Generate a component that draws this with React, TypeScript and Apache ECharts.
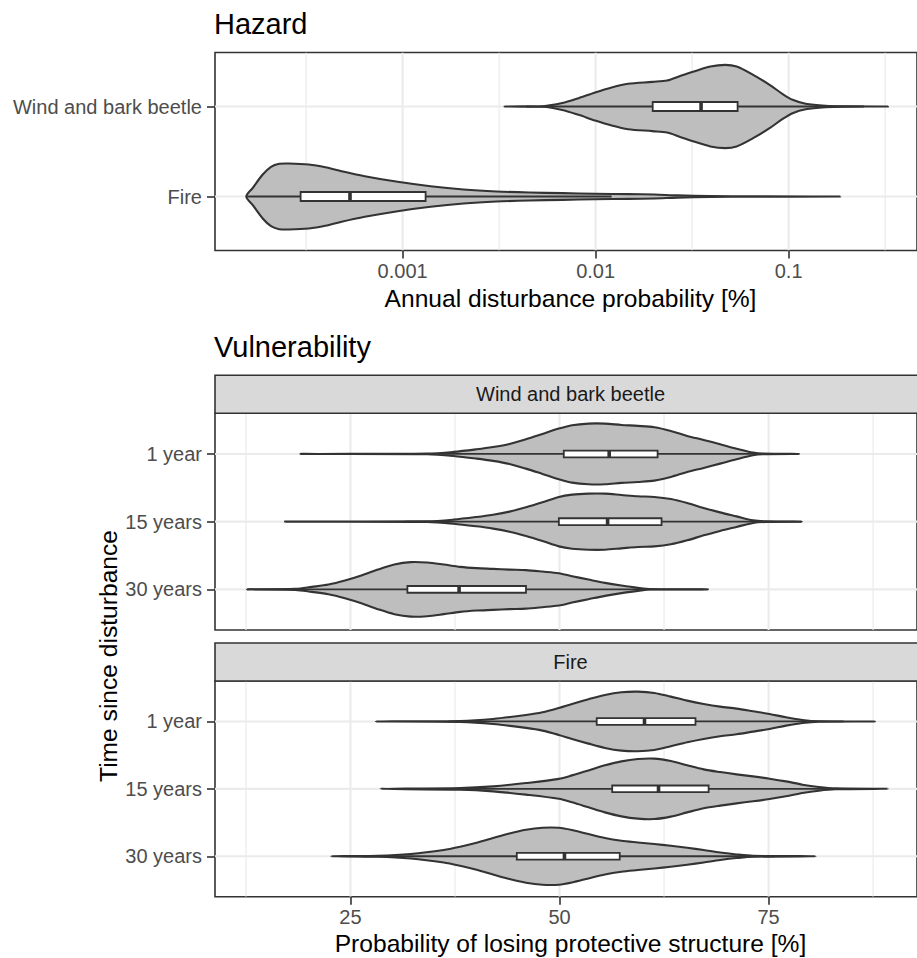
import React, { useEffect, useRef } from 'react';
import * as echarts from 'echarts';

const FONT = '"Liberation Sans", Arial, Helvetica, sans-serif';

// ---------- Hazard (annual disturbance probability, log scale) ----------
const hazardCategories = ['Wind and bark beetle', 'Fire']; // top to bottom
const hazardTickValues = [0.001, 0.01, 0.1];
const hazardTickLabels = ['0.001', '0.01', '0.1'];
const hazardMinorBreaks = [0.00031623, 0.0031623, 0.031623, 0.31623];

// violin outline: [probability, half width in category units]
const hazardWindProfile = [
  [0.003376, 0], [0.005307, 0.003], [0.006716, 0.038], [0.008166, 0.093], [0.00994, 0.156],
  [0.012104, 0.211], [0.014719, 0.252], [0.019685, 0.274], [0.023485, 0.289], [0.0276, 0.341],
  [0.032287, 0.389], [0.039301, 0.444], [0.046891, 0.463], [0.053752, 0.444], [0.065449, 0.352],
  [0.079672, 0.241], [0.09318, 0.138], [0.10483, 0.074], [0.12259, 0.03], [0.15513, 0.008],
  [0.19572, 0.002], [0.32743, 0],
];
const hazardFireProfile = [
  [0.00015495, 0], [0.00016749, 0.097], [0.00018847, 0.244], [0.00020806, 0.33], [0.00022944, 0.363],
  [0.00025807, 0.367], [0.00032668, 0.356], [0.00039765, 0.326], [0.0004834, 0.281], [0.00063694, 0.226],
  [0.00094275, 0.163], [0.0013956, 0.114], [0.0020682, 0.078], [0.0030609, 0.056], [0.0045322, 0.044],
  [0.006716, 0.037], [0.00994, 0.03], [0.014719, 0.026], [0.020153, 0.022], [0.026424, 0.013],
  [0.039301, 0.006], [0.065449, 0.002], [0.18515, 0],
];
// [lower whisker, q1, median, q3, upper whisker]
const hazardWindBox = [0.0043652, 0.019757, 0.035179, 0.0544, 0.24547];
const hazardFireBox = [0.00015495, 0.0002962, 0.00053383, 0.0013157, 0.012106];

// ---------- Vulnerability (probability of losing protective structure) ----------
const timeCategories = ['1 year', '15 years', '30 years']; // top to bottom
const facetNames = ['Wind and bark beetle', 'Fire'];
const vulnTickValues = [25, 50, 75];
const vulnMinorBreaks = [12.5, 37.5, 62.5, 87.5];

const windProfile1 = [
  [19.02, 0], [34.18, 0.004], [37.33, 0.03], [40.08, 0.069], [42.05, 0.103], [44.01, 0.148],
  [45.99, 0.217], [47.96, 0.295], [49.92, 0.374], [51.5, 0.424], [53.46, 0.448], [55.43, 0.448],
  [57.4, 0.428], [59.36, 0.414], [61.34, 0.394], [63.31, 0.34], [65.27, 0.266], [67.24, 0.207],
  [69.21, 0.143], [71.17, 0.078], [73.14, 0.019], [74.32, 0.004], [78.66, 0],
];
const windProfile15 = [
  [17.17, 0], [34.18, 0.004], [37.33, 0.03], [40.08, 0.069], [42.05, 0.103], [44.01, 0.148],
  [45.99, 0.211], [47.96, 0.285], [49.92, 0.365], [51.5, 0.399], [53.46, 0.414], [55.43, 0.414],
  [57.4, 0.394], [59.36, 0.374], [61.34, 0.365], [63.31, 0.335], [65.27, 0.276], [67.24, 0.202],
  [69.21, 0.137], [71.17, 0.078], [73.14, 0.019], [74.72, 0.004], [78.97, 0],
];
const windProfile30 = [
  [12.6, 0], [18.43, 0.007], [20.39, 0.037], [22.37, 0.071], [24.34, 0.13], [26.3, 0.204],
  [28.27, 0.292], [30.24, 0.366], [32.2, 0.402], [34.18, 0.396], [36.15, 0.366], [38.11, 0.332],
  [40.08, 0.313], [42.05, 0.303], [44.01, 0.292], [45.99, 0.284], [47.96, 0.263], [49.92, 0.239],
  [51.5, 0.195], [53.46, 0.145], [55.43, 0.096], [57.4, 0.056], [59.36, 0.022], [60.95, 0.003],
  [67.75, 0],
];
const fireProfile1 = [
  [28.0, 0], [38.11, 0.007], [42.05, 0.037], [45.99, 0.096], [47.96, 0.136], [49.92, 0.2],
  [51.5, 0.26], [53.46, 0.329], [55.43, 0.393], [57.4, 0.433], [59.36, 0.442], [61.34, 0.423],
  [63.31, 0.368], [65.27, 0.309], [67.24, 0.26], [69.21, 0.22], [71.17, 0.19], [73.14, 0.151],
  [75.12, 0.111], [77.08, 0.062], [79.05, 0.022], [81.02, 0.003], [87.71, 0],
];
const fireProfile15 = [
  [28.59, 0], [38.11, 0.012], [42.05, 0.037], [45.99, 0.086], [49.92, 0.148], [51.5, 0.2],
  [53.46, 0.274], [55.43, 0.349], [57.4, 0.408], [59.36, 0.442], [61.34, 0.448], [63.31, 0.412],
  [65.27, 0.349], [67.24, 0.289], [69.21, 0.249], [71.17, 0.215], [73.14, 0.185], [75.12, 0.151],
  [77.08, 0.111], [79.05, 0.062], [81.02, 0.027], [82.98, 0.007], [89.29, 0],
];
const fireProfile30 = [
  [22.69, 0], [28.27, 0.007], [32.2, 0.033], [36.15, 0.092], [38.11, 0.141], [40.08, 0.2],
  [42.05, 0.27], [44.01, 0.338], [45.99, 0.393], [47.96, 0.423], [49.92, 0.423], [51.5, 0.389],
  [53.46, 0.329], [55.43, 0.27], [57.4, 0.23], [59.36, 0.205], [61.34, 0.181], [63.31, 0.156],
  [65.27, 0.126], [67.24, 0.092], [69.21, 0.056], [71.17, 0.027], [73.14, 0.007], [80.62, 0],
];
// [lower whisker, q1, median, q3, upper whisker]
const windBoxes = [
  [33.7, 50.51, 55.94, 61.73, 78.5],
  [31.5, 49.92, 55.75, 62.2, 78.97],
  [12.6, 31.81, 37.99, 45.99, 67.2],
];
const fireBoxes = [
  [36.7, 54.45, 60.16, 66.26, 83.97],
  [39.0, 56.3, 61.84, 67.83, 85.1],
  [26.4, 44.89, 50.59, 57.2, 75.7],
];

// ---------- layout ----------
const PANEL_LEFT = 215;
const PANEL_WIDTH = 711;
const HAZ = { top: 52.5, height: 198 };
const WIND = { top: 413.3, height: 216.7 };
const FIRE = { top: 681, height: 215.7 };
const STRIP_H = 38;

const INK = '#333333';
const GRIDC = '#EBEBEB';
const TICK_FS = 20;
const AXIS_FS = 24.6;
const TITLE_FS = 29;

type Violin = { pos: number; profile: number[][]; box: number[] };

const log10 = (v: number) => Math.log10(v);
const ident = (v: number) => v;

function violinSeries(gi: number, violins: Violin[], tx: (v: number) => number) {
  return {
    type: 'custom',
    xAxisIndex: gi,
    yAxisIndex: gi,
    z: 5,
    silent: true,
    clip: false,
    data: violins.map((v) => [tx(v.box[2]), v.pos]),
    encode: { x: 0, y: 1 },
    renderItem: (params: any, api: any) => {
      const v = violins[params.dataIndex];
      const up = v.profile.map(([x, h]) => api.coord([tx(x), v.pos + h]));
      const lo = v.profile
        .slice(1, -1)
        .reverse()
        .map(([x, h]) => api.coord([tx(x), v.pos - h]));
      const [wl, q1, med, q3, wh] = v.box.map(tx);
      const pL = api.coord([wl, v.pos]);
      const pQ1 = api.coord([q1, v.pos]);
      const pQ3 = api.coord([q3, v.pos]);
      const pH = api.coord([wh, v.pos]);
      const pM = api.coord([med, v.pos]);
      const top = api.coord([q1, v.pos + 0.05])[1];
      const bot = api.coord([q1, v.pos - 0.05])[1];
      const ls = { stroke: INK, lineWidth: 1.8 };
      return {
        type: 'group',
        children: [
          {
            type: 'polygon',
            shape: { points: up.concat(lo), smooth: 0.3 },
            style: { fill: '#BEBEBE', stroke: INK, lineWidth: 2.1, lineJoin: 'round' },
          },
          { type: 'line', shape: { x1: pL[0], y1: pL[1], x2: pQ1[0], y2: pQ1[1] }, style: ls },
          { type: 'line', shape: { x1: pQ3[0], y1: pQ3[1], x2: pH[0], y2: pH[1] }, style: ls },
          {
            type: 'rect',
            shape: { x: pQ1[0], y: top, width: pQ3[0] - pQ1[0], height: bot - top },
            style: { fill: '#FFFFFF', stroke: INK, lineWidth: 1.8 },
          },
          { type: 'line', shape: { x1: pM[0], y1: top, x2: pM[0], y2: bot }, style: { stroke: INK, lineWidth: 3.6 } },
        ],
      };
    },
  };
}

function gridLineSeries(gi: number, vMajor: number[], vMinor: number[], hMajor: number[], xMid: number, yMid: number) {
  const lines = [
    ...vMinor.map((v) => ({ d: 'v', v, w: 1.2 })),
    ...vMajor.map((v) => ({ d: 'v', v, w: 2.1 })),
    ...hMajor.map((v) => ({ d: 'h', v, w: 2.1 })),
  ];
  return {
    type: 'custom',
    xAxisIndex: gi,
    yAxisIndex: gi,
    z: 1,
    silent: true,
    clip: true,
    data: lines.map((l) => (l.d === 'v' ? [l.v, yMid] : [xMid, l.v])),
    encode: { x: 0, y: 1 },
    renderItem: (params: any, api: any) => {
      const l = lines[params.dataIndex];
      const cs = params.coordSys;
      const style = { stroke: GRIDC, lineWidth: l.w };
      if (l.d === 'v') {
        const x = api.coord([l.v, yMid])[0];
        return { type: 'line', shape: { x1: x, y1: cs.y, x2: x, y2: cs.y + cs.height }, style };
      }
      const y = api.coord([xMid, l.v])[1];
      return { type: 'line', shape: { x1: cs.x, y1: y, x2: cs.x + cs.width, y2: y }, style };
    },
  };
}

function catAxis(gi: number, cats: string[], showLabels = true) {
  const n = cats.length;
  const vals = cats.map((_, i) => n - i);
  return {
    type: 'value',
    gridIndex: gi,
    min: 0.4,
    max: n + 0.6,
    axisLine: { show: false },
    splitLine: { show: false },
    axisTick: { show: true, customValues: vals, length: 8, lineStyle: { color: INK, width: 1.6 } },
    axisLabel: {
      show: showLabels,
      customValues: vals,
      formatter: (v: number) => cats[n - Math.round(v)] ?? '',
      color: '#4D4D4D',
      fontSize: TICK_FS,
      fontFamily: FONT,
      margin: 13,
    },
  };
}

function textEl(text: string, x: number, y: number, size: number, color: string, align: string, rotation = 0) {
  return {
    type: 'text',
    x,
    y,
    rotation,
    z: 20,
    silent: true,
    style: {
      text,
      fill: color,
      fontSize: size,
      fontFamily: FONT,
      align,
      textAlign: align,
      verticalAlign: 'middle',
      textVerticalAlign: 'middle',
    },
  };
}

export default function App() {
  const ref = useRef<HTMLDivElement>(null);
  useEffect(() => {
    if (!ref.current) return;
    const chart = echarts.init(ref.current, undefined, { renderer: 'svg' });

    const hazMajor = hazardTickValues.map(log10);
    const hazMinor = hazardMinorBreaks.map(log10);
    const hazViolins: Violin[] = [
      { pos: 2, profile: hazardWindProfile, box: hazardWindBox },
      { pos: 1, profile: hazardFireProfile, box: hazardFireBox },
    ];
    const windProfiles = [windProfile1, windProfile15, windProfile30];
    const fireProfiles = [fireProfile1, fireProfile15, fireProfile30];
    const nT = timeCategories.length;
    const windViolins: Violin[] = timeCategories.map((_, i) => ({ pos: nT - i, profile: windProfiles[i], box: windBoxes[i] }));
    const fireViolins: Violin[] = timeCategories.map((_, i) => ({ pos: nT - i, profile: fireProfiles[i], box: fireBoxes[i] }));
    const catPos2 = hazardCategories.map((_, i) => hazardCategories.length - i);
    const catPos3 = timeCategories.map((_, i) => nT - i);

    const hazMin = -3.972;
    const hazMax = -0.335;
    const vMin = 8.8;
    const vMax = 92.75;

    const xLabelBase = { color: '#4D4D4D', fontSize: TICK_FS, fontFamily: FONT, margin: 10.5 };
    const tickStyle = { color: INK, width: 1.6 };

    const stripTop1 = WIND.top - STRIP_H;
    const stripTop2 = FIRE.top - STRIP_H;
    const centerX = PANEL_LEFT + PANEL_WIDTH / 2;

    chart.setOption({
      animation: false,
      backgroundColor: '#FFFFFF',
      grid: [
        { left: PANEL_LEFT, width: PANEL_WIDTH, top: HAZ.top, height: HAZ.height, show: true, borderColor: INK, borderWidth: 1.6, backgroundColor: 'transparent' },
        { left: PANEL_LEFT, width: PANEL_WIDTH, top: WIND.top, height: WIND.height, show: true, borderColor: INK, borderWidth: 1.6, backgroundColor: 'transparent' },
        { left: PANEL_LEFT, width: PANEL_WIDTH, top: FIRE.top, height: FIRE.height, show: true, borderColor: INK, borderWidth: 1.6, backgroundColor: 'transparent' },
      ],
      xAxis: [
        {
          type: 'value',
          gridIndex: 0,
          min: hazMin,
          max: hazMax,
          axisLine: { show: false },
          splitLine: { show: false },
          axisTick: { show: true, customValues: hazMajor, length: 8, lineStyle: tickStyle },
          axisLabel: {
            ...xLabelBase,
            customValues: hazMajor,
            formatter: (v: number) => {
              const i = hazMajor.findIndex((m) => Math.abs(m - v) < 1e-6);
              return i >= 0 ? hazardTickLabels[i] : '';
            },
          },
        },
        {
          type: 'value',
          gridIndex: 1,
          min: vMin,
          max: vMax,
          axisLine: { show: false },
          splitLine: { show: false },
          axisTick: { show: false },
          axisLabel: { show: false },
        },
        {
          type: 'value',
          gridIndex: 2,
          min: vMin,
          max: vMax,
          axisLine: { show: false },
          splitLine: { show: false },
          axisTick: { show: true, customValues: vulnTickValues, length: 8, lineStyle: tickStyle },
          axisLabel: { ...xLabelBase, customValues: vulnTickValues, formatter: (v: number) => String(Math.round(v)) },
        },
      ],
      yAxis: [catAxis(0, hazardCategories), catAxis(1, timeCategories), catAxis(2, timeCategories)],
      series: [
        gridLineSeries(0, hazMajor, hazMinor, catPos2, -2, 1.5),
        gridLineSeries(1, vulnTickValues, vulnMinorBreaks, catPos3, 50, 2),
        gridLineSeries(2, vulnTickValues, vulnMinorBreaks, catPos3, 50, 2),
        violinSeries(0, hazViolins, log10),
        violinSeries(1, windViolins, ident),
        violinSeries(2, fireViolins, ident),
      ],
      graphic: [
        textEl('Hazard', 214, 24, TITLE_FS, '#000000', 'left'),
        textEl('Annual disturbance probability [%]', centerX, 298, AXIS_FS, '#000000', 'center'),
        textEl('Vulnerability', 214, 347, TITLE_FS, '#000000', 'left'),
        {
          type: 'rect',
          z: 15,
          silent: true,
          shape: { x: PANEL_LEFT, y: stripTop1, width: PANEL_WIDTH, height: STRIP_H },
          style: { fill: '#D9D9D9', stroke: INK, lineWidth: 1.6 },
        },
        textEl(facetNames[0], centerX, stripTop1 + STRIP_H / 2, TICK_FS, '#1A1A1A', 'center'),
        {
          type: 'rect',
          z: 15,
          silent: true,
          shape: { x: PANEL_LEFT, y: stripTop2, width: PANEL_WIDTH, height: STRIP_H },
          style: { fill: '#D9D9D9', stroke: INK, lineWidth: 1.6 },
        },
        textEl(facetNames[1], centerX, stripTop2 + STRIP_H / 2, TICK_FS, '#1A1A1A', 'center'),
        textEl('Time since disturbance', 108, 656, AXIS_FS, '#000000', 'center', Math.PI / 2),
        textEl('Probability of losing protective structure [%]', centerX, 943.3, AXIS_FS, '#000000', 'center'),
      ],
    });
    return () => chart.dispose();
  }, []);
  return <div ref={ref} style={{ position: 'absolute', left: 0, top: 0, width: 917, height: 958 }} />;
}
